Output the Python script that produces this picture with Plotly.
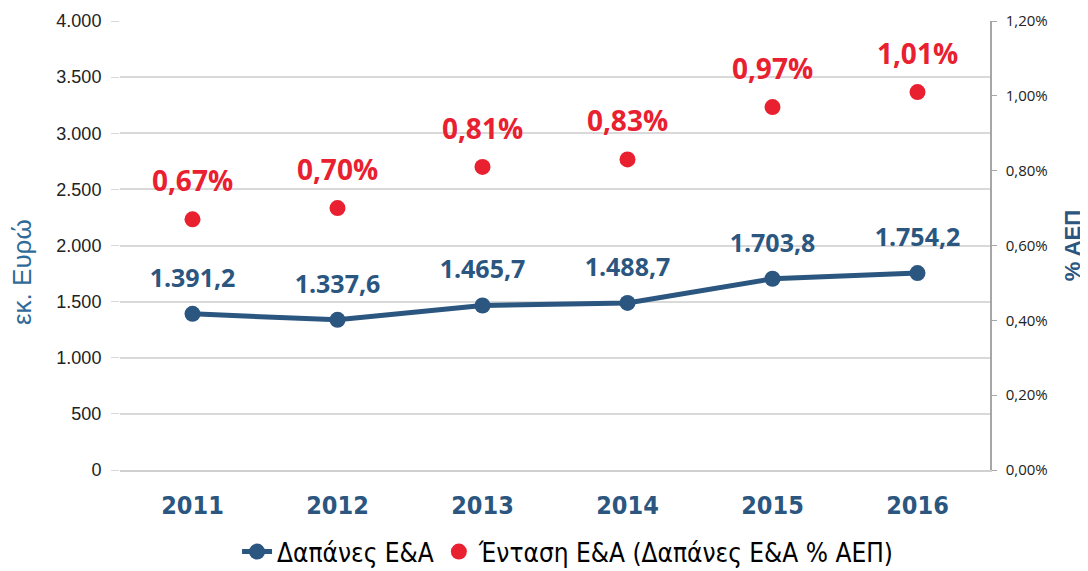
import plotly.graph_objects as go

years = ["2011", "2012", "2013", "2014", "2015", "2016"]
spend = [1391.2, 1337.6, 1465.7, 1488.7, 1703.8, 1754.2]
intensity = [0.0067, 0.0070, 0.0081, 0.0083, 0.0097, 0.0101]
spend_labels = ["1.391,2", "1.337,6", "1.465,7", "1.488,7", "1.703,8", "1.754,2"]
intensity_labels = ["0,67%", "0,70%", "0,81%", "0,83%", "0,97%", "1,01%"]

blue = "#2B5680"
red = "#E8202F"

fig = go.Figure()

fig.add_trace(go.Scatter(
    x=years, y=spend, mode="lines+markers", name="Δαπάνες Ε&Α",
    line=dict(color=blue, width=5), marker=dict(size=16, color=blue),
))

fig.add_trace(go.Scatter(
    x=years, y=intensity, mode="markers", name="Ένταση Ε&Α (Δαπάνες Ε&Α % ΑΕΠ)",
    marker=dict(size=16, color=red), yaxis="y2",
))

# data labels: invisible big markers push the text up off the points
fig.add_trace(go.Scatter(
    x=years, y=spend, mode="markers+text", text=spend_labels, textposition="top center",
    marker=dict(size=32, color="rgba(0,0,0,0)"), showlegend=False, hoverinfo="skip",
    textfont=dict(family="Open Sans", size=25, color=blue, weight="bold"),
))
fig.add_trace(go.Scatter(
    x=years, y=intensity, mode="markers+text", text=intensity_labels, textposition="top center",
    marker=dict(size=32, color="rgba(0,0,0,0)"), showlegend=False, hoverinfo="skip", yaxis="y2",
    textfont=dict(family="Open Sans", size=28, color=red, weight="bold"),
))

# left axis title sits a bit below the middle in the original
fig.add_annotation(text="εκ. Ευρώ", xref="paper", yref="paper", x=-0.112, y=0.44,
                   xanchor="center", yanchor="middle", textangle=-90, showarrow=False,
                   font=dict(family="Liberation Sans", size=26, color="#2F6A99"))

# page body has an 8px margin, so the figure is 8px smaller than the window
fig.update_layout(
    width=1080, height=563,
    margin=dict(l=112, r=98, t=13, b=101, autoexpand=False),
    plot_bgcolor="white", paper_bgcolor="white",
    separators=",.",
    showlegend=True,
    legend=dict(orientation="h", x=0.515, xanchor="center", y=-0.182, yanchor="middle",
                font=dict(family="DejaVu Sans Condensed", size=26, color="#000")),
    xaxis=dict(type="category", range=[-0.5, 5.5], showgrid=False, showline=True, linecolor="#D0D0D0",
               linewidth=1.5, ticks="", ticklabelstandoff=12,
               tickfont=dict(family="DejaVu Sans Condensed", size=25, color=blue, weight="bold")),
    yaxis=dict(range=[0, 4000], dtick=500, tickformat=",.0f", showgrid=True,
               gridcolor="#D9D9D9", gridwidth=1.5, zeroline=False,
               ticks="outside", ticklen=8, tickcolor="#D9D9D9", ticklabelstandoff=6,
               tickfont=dict(family="Liberation Sans", size=18, color="#222")),
    yaxis2=dict(range=[0, 0.012], dtick=0.002, tickformat=".2%", overlaying="y", side="right",
                showgrid=False, zeroline=False, showline=True, linecolor="#A6A6A6", linewidth=1.5,
                ticks="outside", ticklen=5, tickcolor="#A6A6A6", ticklabelstandoff=6,
                tickfont=dict(family="Open Sans", size=15, color="#222"),
                title=dict(text="<b>% ΑΕΠ</b>", font=dict(family="Liberation Sans", size=22, color=blue),
                           standoff=18)),
)

fig.write_html("out.html")
